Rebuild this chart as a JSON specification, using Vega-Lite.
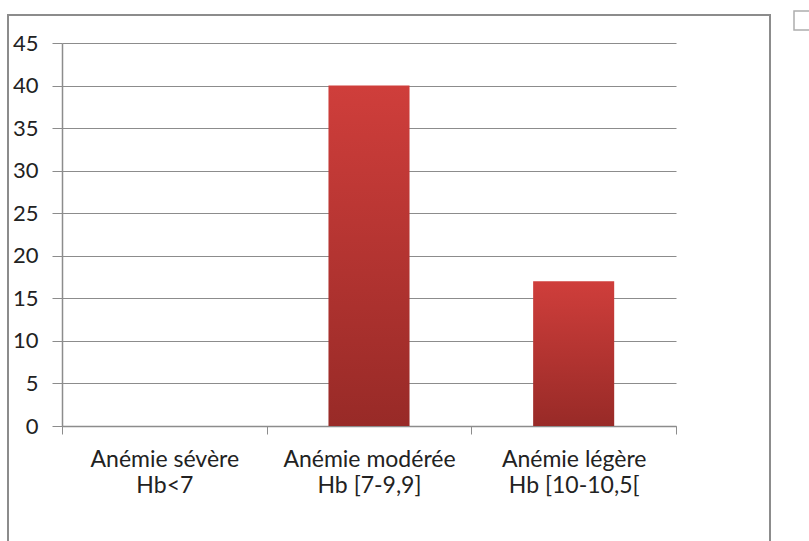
{
  "$schema": "https://vega.github.io/schema/vega-lite/v6.json",
  "autosize": {"type": "none"},
  "padding": {"left": 8, "top": 15, "right": 39, "bottom": -3},
  "width": 762,
  "height": 529,
  "background": "white",
  "config": {
    "view": {"stroke": "#8c8c8c", "strokeWidth": 2},
    "font": "Lato"
  },
  "data": {
    "values": [
      {"categorie": "Anémie sévère|Hb<7", "valeur": 0, "serie": " "},
      {"categorie": "Anémie modérée|Hb [7-9,9]", "valeur": 40, "serie": " "},
      {"categorie": "Anémie légère|Hb [10-10,5[", "valeur": 17, "serie": " "}
    ]
  },
  "encoding": {
    "x": {
      "field": "categorie",
      "type": "nominal",
      "sort": null,
      "scale": {"type": "band", "range": [54, 668], "paddingInner": 0, "paddingOuter": 0},
      "axis": {
        "title": null,
        "orient": "bottom",
        "offset": -118,
        "labelExpr": "split(datum.label, '|')",
        "labelAngle": 0,
        "labelFont": "Lato",
        "labelFontSize": 23,
        "labelLineHeight": 26,
        "labelColor": "#222222",
        "labelPadding": 14,
        "tickBand": "extent",
        "tickSize": 8,
        "tickColor": "#8c8c8c",
        "domainColor": "#8c8c8c",
        "domainWidth": 1.5,
        "grid": false
      }
    },
    "y": {
      "field": "valeur",
      "type": "quantitative",
      "scale": {"domain": [0, 45], "range": [411, 28], "nice": false},
      "axis": {
        "title": null,
        "offset": -54,
        "values": [0, 5, 10, 15, 20, 25, 30, 35, 40, 45],
        "labelFont": "Lato",
        "labelFontSize": 22,
        "labelColor": "#222222",
        "labelPadding": 14,
        "tickSize": 10,
        "tickColor": "#8c8c8c",
        "domainColor": "#8c8c8c",
        "domainWidth": 1.5,
        "grid": true,
        "gridColor": "#8c8c8c",
        "gridWidth": 1.2
      }
    }
  },
  "layer": [
    {
      "mark": {
        "type": "bar",
        "width": {"band": 0.396},
        "strokeWidth": 0,
        "color": {
          "gradient": "linear",
          "x1": 0, "y1": 0, "x2": 0, "y2": 1,
          "stops": [
            {"offset": 0, "color": "#cf3e3b"},
            {"offset": 1, "color": "#982a27"}
          ]
        }
      }
    },
    {
      "transform": [{"filter": "datum.valeur < 0"}],
      "mark": {"type": "point", "shape": "square", "filled": false},
      "encoding": {
        "stroke": {
          "field": "serie",
          "type": "nominal",
          "scale": {"domain": [" "], "range": ["#8c8c8c"]},
          "legend": {
            "title": null,
            "orient": "none",
            "legendX": 785,
            "legendY": -5,
            "symbolType": "square",
            "symbolSize": 361,
            "symbolFillColor": "white",
            "symbolStrokeWidth": 1.5,
            "labelFontSize": 1
          }
        }
      }
    }
  ]
}
